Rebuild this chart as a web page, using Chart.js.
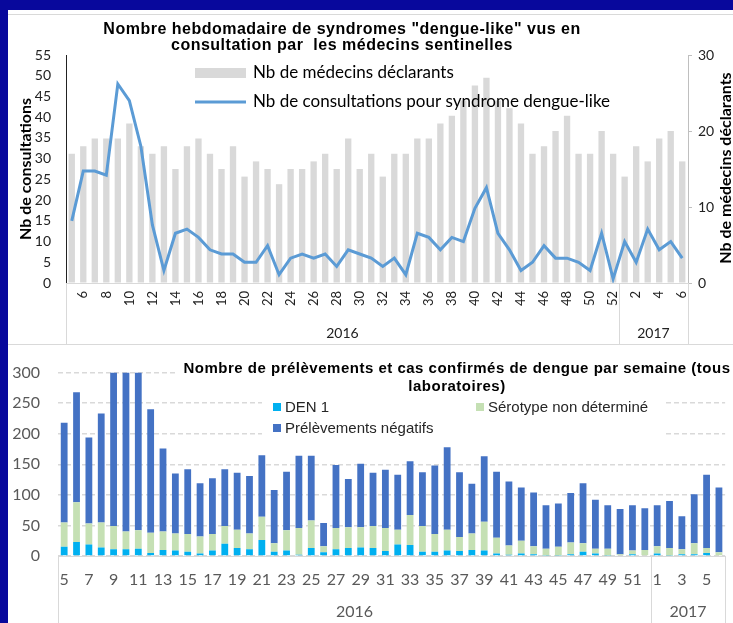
<!DOCTYPE html>
<html><head><meta charset="utf-8">
<script src="https://cdn.jsdelivr.net/npm/chart.js@4/dist/chart.umd.min.js"></script>
<style>
html,body{margin:0;padding:0;background:#08089c;width:733px;height:623px;overflow:hidden;}
#top{position:absolute;left:8px;top:10px;width:725px;height:334px;background:#fff;}
#bot{position:absolute;left:8px;top:345px;width:725px;height:278px;background:#fff;}
.sep{position:absolute;left:8px;width:725px;height:1px;background:#d9d9d9;}
canvas{display:block;}
</style></head>
<body>
<div id="top"><canvas id="c1" width="725" height="334"></canvas></div>
<div id="bot"><canvas id="c2" width="725" height="278"></canvas></div>
<div class="sep" style="top:14px"></div>
<div class="sep" style="top:344px"></div>
<script>
// ---------- DATA ----------
const weeks = ['5','6','7','8','9','10','11','12','13','14','15','16','17','18','19','20','21','22','23','24','25','26','27','28','29','30','31','32','33','34','35','36','37','38','39','40','41','42','43','44','45','46','47','48','49','50','51','52','1','2','3','4','5','6'];
const years = ['2016','2017'];
const yearWeekCounts = [48, 6];

const consultations = [15,27,27,26,48,44,33,14,3,12,13,11,8,7,7,5,5,9,2,6,7,6,7,4,8,7,6,4,6,2,12,11,8,11,10,18,23,12,8,3,5,9,6,6,5,3,12,1,10,5,13,8,10,6];
const medecins = [17,18,19,19,19,21,18,17,18,15,18,19,17,15,18,14,16,15,13,15,15,16,17,15,19,15,17,14,17,17,19,19,21,22,24,26,27,24,23,21,17,18,20,22,17,17,20,17,14,18,16,19,20,16];

const den1 = [15,23,19,14,11,11,12,5,10,9,7,4,9,20,13,11,26,7,9,2,13,6,11,13,14,13,8,19,18,7,7,9,8,10,9,4,2,4,3,1,1,3,7,4,1,0,3,0,4,1,3,3,5,0];
const serotypeND = [40,65,34,41,38,29,30,33,30,28,29,28,27,29,30,26,38,14,33,44,45,10,35,34,33,36,38,24,49,42,29,34,23,27,47,26,15,21,13,11,14,19,14,8,11,3,6,10,12,12,8,18,8,6];
const negatifs = [163,180,141,178,251,260,258,202,136,98,106,87,91,93,93,94,101,87,96,118,106,38,103,79,104,87,95,90,88,88,112,135,106,81,107,108,105,87,88,71,71,81,98,80,71,74,74,68,67,77,54,80,120,106];

const consTicksMax = 55, medTicksMax = 30, labTicksMax = 300;

const topTitle = ['Nombre hebdomadaire de syndromes "dengue-like" vus en', 'consultation par  les médecins sentinelles'];
const topLegend = ['Nb de médecins déclarants', 'Nb de consultations pour syndrome dengue-like'];
const topYTitle = 'Nb de consultations';
const topY2Title = 'Nb de médecins déclarants';
const bottomTitle = ['Nombre de prélèvements et cas confirmés de dengue par semaine (tous', 'laboratoires)'];
const bottomLegend = ['DEN 1', 'Sérotype non déterminé', 'Prélèvements négatifs'];

// ---------- STYLE ----------
const C_GRAYBAR = '#d9d9d9', C_LINE = '#5b9bd5';
const C_DEN1 = '#00b0f0', C_SND = '#c5e0b4', C_NEG = '#4472c4';
const CAL = 'Lato, "Noto Sans", sans-serif';
const ARIAL = '"Liberation Sans", Arial, sans-serif';

function drawGroups(chart, font, color, labelY, lineColor) {
  const xs = chart.scales.x, ctx = chart.ctx, a = chart.chartArea;
  const half = (xs.getPixelForValue(1) - xs.getPixelForValue(0)) / 2;
  ctx.save();
  ctx.font = font; ctx.fillStyle = color; ctx.textAlign = 'center'; ctx.textBaseline = 'middle';
  const edges = [xs.getPixelForValue(0) - half];
  let start = 0;
  years.forEach((y, i) => {
    const end = start + yearWeekCounts[i] - 1;
    const cx = (xs.getPixelForValue(start) + xs.getPixelForValue(end)) / 2;
    ctx.fillText(y, cx, labelY);
    edges.push(xs.getPixelForValue(end) + half);
    start = end + 1;
  });
  ctx.strokeStyle = lineColor; ctx.lineWidth = 1;
  edges.forEach(e => {
    const x = Math.round(e) + 0.5;
    ctx.beginPath(); ctx.moveTo(x, a.bottom); ctx.lineTo(x, chart.height); ctx.stroke();
  });
  ctx.restore();
}

const topDecor = {
  id: 'topDecor',
  afterDraw(chart) {
    const ctx = chart.ctx, a = chart.chartArea;
    ctx.save();
    ctx.fillStyle = '#000'; ctx.textAlign = 'center'; ctx.textBaseline = 'middle';
    ctx.font = 'bold 16px ' + ARIAL;
    ctx.letterSpacing = '0.5px';
    topTitle.forEach((t, i) => ctx.fillText(t, 334, 20 + i * 16));
    ctx.letterSpacing = '0px';
    // legend
    ctx.fillStyle = C_GRAYBAR; ctx.fillRect(187, 58, 51, 10);
    ctx.strokeStyle = C_LINE; ctx.lineWidth = 3;
    ctx.beginPath(); ctx.moveTo(187, 92); ctx.lineTo(238, 92); ctx.stroke();
    ctx.fillStyle = '#000'; ctx.textAlign = 'left'; ctx.font = '17px ' + CAL;
    ctx.fillText(topLegend[0], 245, 63);
    ctx.fillText(topLegend[1], 245, 92);
    // right axis title
    ctx.save();
    ctx.translate(718, 158);
    ctx.rotate(-Math.PI / 2);
    ctx.textAlign = 'center'; ctx.font = 'bold 16px ' + CAL; ctx.fillStyle = '#000';
    ctx.fillText(topY2Title, 0, 0);
    ctx.restore();
    ctx.restore();
    drawGroups(chart, '14px ' + CAL, '#222', 323, '#d9d9d9');
  }
};

new Chart(document.getElementById('c1'), {
  type: 'bar',
  data: {
    labels: weeks,
    datasets: [
      { type: 'line', label: topLegend[1], data: consultations, yAxisID: 'y', borderColor: C_LINE, borderWidth: 3,
        pointRadius: 0, tension: 0, fill: false, order: 0 },
      { type: 'bar', label: topLegend[0], data: medecins, yAxisID: 'y2', backgroundColor: C_GRAYBAR,
        categoryPercentage: 1, barPercentage: 0.55, order: 1 }
    ]
  },
  options: {
    responsive: false, animation: false, devicePixelRatio: 1, events: [],
    layout: { padding: { top: 45, left: 0, right: 0, bottom: 0 } },
    plugins: { legend: { display: false }, title: { display: false }, tooltip: { enabled: false } },
    scales: {
      x: {
        grid: { display: false, drawTicks: false },
        border: { display: true, color: '#d9d9d9' },
        ticks: { autoSkip: false, minRotation: 90, maxRotation: 90, padding: 8, color: '#222', font: { family: CAL, size: 13 },
          callback: function (v, i) { return i % 2 === 1 ? this.getLabelForValue(v) : ''; } },
        afterFit(s) { s.height = 61; }
      },
      y: {
        position: 'left', min: 0, max: consTicksMax,
        grid: { display: false, drawTicks: false },
        border: { display: true, color: '#222' },
        ticks: { stepSize: 5, padding: 15, color: '#222', font: { family: CAL, size: 14 } },
        title: { display: true, text: topYTitle, color: '#000', font: { family: CAL, size: 16, weight: 'bold' }, padding: { top: 8, bottom: 0 } },
        afterFit(s) { s.width = 58; }
      },
      y2: {
        position: 'right', min: 0, max: medTicksMax,
        grid: { display: true, drawOnChartArea: false, drawTicks: true, tickLength: 4, color: '#bfbfbf' },
        border: { display: true, color: '#bfbfbf' },
        ticks: { stepSize: 10, padding: 6, color: '#222', font: { family: CAL, size: 14 } },
        afterFit(s) { s.width = 45; }
      }
    }
  },
  plugins: [topDecor]
});

const botDecor = {
  id: 'botDecor',
  beforeDatasetsDraw(chart) {
    const ctx = chart.ctx;
    ctx.save();
    ctx.fillStyle = '#fff';
    ctx.fillRect(167, 0, 558, 55);
    ctx.fillRect(254, 55, 403, 37);
    ctx.restore();
  },
  afterDraw(chart) {
    const ctx = chart.ctx;
    ctx.save();
    ctx.fillStyle = '#000'; ctx.textAlign = 'center'; ctx.textBaseline = 'middle';
    ctx.font = 'bold 15px ' + ARIAL;
    ctx.letterSpacing = '0.5px';
    ctx.fillText(bottomTitle[0], 449, 24);
    ctx.fillText(bottomTitle[1], 449, 42);
    ctx.letterSpacing = '0px';
    ctx.font = '15px ' + ARIAL; ctx.textAlign = 'left';
    const items = [[265, 58, C_DEN1, 0], [468, 58, C_SND, 1], [265, 79, C_NEG, 2]];
    items.forEach(([x, y, c, i]) => {
      ctx.fillStyle = c; ctx.fillRect(x, y, 8, 8);
      ctx.fillStyle = '#262626'; ctx.fillText(bottomLegend[i], x + 12, y + 4.5);
    });
    ctx.restore();
    drawGroups(chart, '16px ' + CAL, '#595959', 267, '#d9d9d9');
  }
};

new Chart(document.getElementById('c2'), {
  type: 'bar',
  data: {
    labels: weeks,
    datasets: [
      { label: bottomLegend[0], data: den1, backgroundColor: C_DEN1, categoryPercentage: 1, barPercentage: 0.55 },
      { label: bottomLegend[1], data: serotypeND, backgroundColor: C_SND, categoryPercentage: 1, barPercentage: 0.55 },
      { label: bottomLegend[2], data: negatifs, backgroundColor: C_NEG, categoryPercentage: 1, barPercentage: 0.55 }
    ]
  },
  options: {
    responsive: false, animation: false, devicePixelRatio: 1, events: [],
    layout: { padding: { top: 11, left: 0, right: 7, bottom: 0 } },
    plugins: { legend: { display: false }, title: { display: false }, tooltip: { enabled: false } },
    scales: {
      x: {
        stacked: true,
        grid: { display: false, drawTicks: false },
        border: { display: true, color: '#d9d9d9' },
        ticks: { autoSkip: false, maxRotation: 0, minRotation: 0, padding: 14, color: '#595959', font: { family: CAL, size: 16 },
          callback: function (v, i) { return i % 2 === 0 ? this.getLabelForValue(v) : ''; } },
        afterFit(s) { s.height = 67; }
      },
      y: {
        stacked: true, min: 0, max: labTicksMax,
        grid: { display: true, drawTicks: false, color: '#d9d9d9', lineWidth: 1.5 },
        border: { display: false, dash: [5, 3] },
        ticks: { stepSize: 50, padding: 18, color: '#595959', font: { family: CAL, size: 16 } },
        afterFit(s) { s.width = 50; }
      }
    }
  },
  plugins: [botDecor]
});
</script>
</body></html>
